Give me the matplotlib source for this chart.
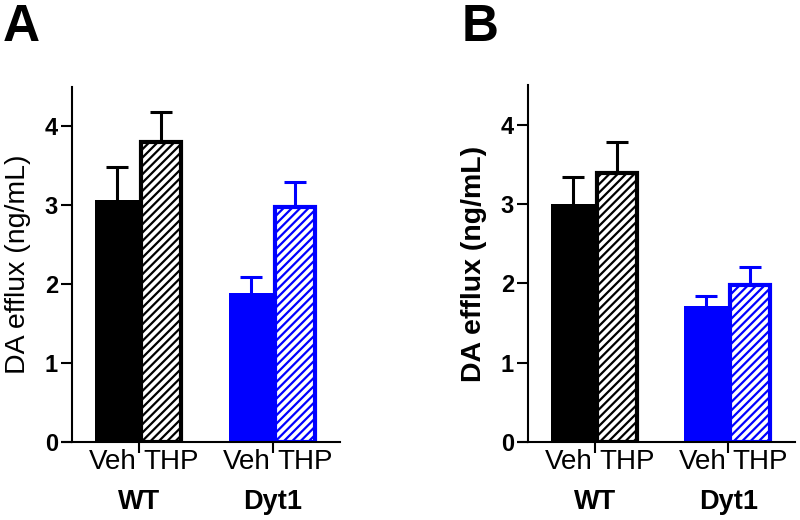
import matplotlib
matplotlib.use("Agg")
import matplotlib.pyplot as plt

plt.rcParams['font.family'] = ['Liberation Sans', 'DejaVu Sans']
plt.rcParams['hatch.linewidth'] = 1.6

groups = ["WT", "Dyt1"]
treatments = ["Veh", "THP"]
colors = ["black", "#0000ff"]

# panel A
a_veh = [3.07, 1.89]
a_veh_sem = [0.42, 0.20]
a_thp = [3.80, 2.98]
a_thp_sem = [0.38, 0.31]

# panel B
b_veh = [3.00, 1.71]
b_veh_sem = [0.34, 0.13]
b_thp = [3.39, 1.98]
b_thp_sem = [0.40, 0.23]

yticks = [0, 1, 2, 3, 4]


def upper_err(ax, x, y, err, c):
    eb = ax.errorbar([x], [y], yerr=[[0], [err]], fmt="none", ecolor=c,
                     elinewidth=2.2, capsize=8, capthick=2.2, zorder=1)
    # only the upper cap
    eb[1][0].set_visible(False)


def draw_panel(ax, veh, veh_sem, thp, thp_sem, bold_label):
    w = 0.33
    for i, g in enumerate(groups):
        c = colors[i]
        ax.bar(i - w / 2, veh[i], width=w, color=c, linewidth=0, zorder=2)
        ax.bar(i + w / 2, thp[i], width=w - 0.03, facecolor="white", edgecolor=c,
               hatch="////", linewidth=3, zorder=2)
        upper_err(ax, i - w / 2, veh[i], veh_sem[i], c)
        upper_err(ax, i + w / 2, thp[i], thp_sem[i], c)
        ax.annotate(treatments[0], xy=(i, 0), xycoords=("data", "axes fraction"),
                    xytext=(-1.5, -14.5), textcoords="offset points",
                    ha="right", va="center", fontsize=20)
        ax.annotate(treatments[1], xy=(i, 0), xycoords=("data", "axes fraction"),
                    xytext=(3, -14.5), textcoords="offset points",
                    ha="left", va="center", fontsize=20)
        ax.annotate(g, xy=(i, 0), xycoords=("data", "axes fraction"),
                    xytext=(0, -43), textcoords="offset points",
                    ha="center", va="center", fontsize=19.5, fontweight="bold")

    ax.set_xlim(-0.5, 1.5)
    ax.set_ylim(0, 4.5)
    ax.set_xticks(range(len(groups)))
    ax.set_xticklabels([])
    ax.set_yticks(yticks)
    ax.set_yticklabels([str(t) for t in yticks], fontsize=17, fontweight="bold")
    ax.tick_params(axis="both", length=8, width=1.5, direction="out")
    ax.tick_params(axis="y", pad=2)
    for s in ["top", "right"]:
        ax.spines[s].set_visible(False)
    for s in ["left", "bottom"]:
        ax.spines[s].set_linewidth(1.5)
    # x axis line runs out to the end of the y ticks
    ax.plot([-0.58, -0.5], [0, 0], color="black", lw=1.5, clip_on=False,
            solid_capstyle="butt")
    ax.set_ylabel("DA efflux (ng/mL)", fontsize=20.5,
                  fontweight="bold" if bold_label else "normal", labelpad=10)


fig = plt.figure(figsize=(8, 5.2), dpi=100)
ax_a = fig.add_axes([0.09, 0.15, 0.335, 0.683])
ax_b = fig.add_axes([0.66, 0.15, 0.334, 0.686])

draw_panel(ax_a, a_veh, a_veh_sem, a_thp, a_thp_sem, False)
draw_panel(ax_b, b_veh, b_veh_sem, b_thp, b_thp_sem, True)

fig.text(0.004, 0.995, "A", ha="left", va="top", fontsize=37, fontweight="bold")
fig.text(0.577, 0.995, "B", ha="left", va="top", fontsize=37, fontweight="bold")

fig.savefig("out.png", dpi=100)
